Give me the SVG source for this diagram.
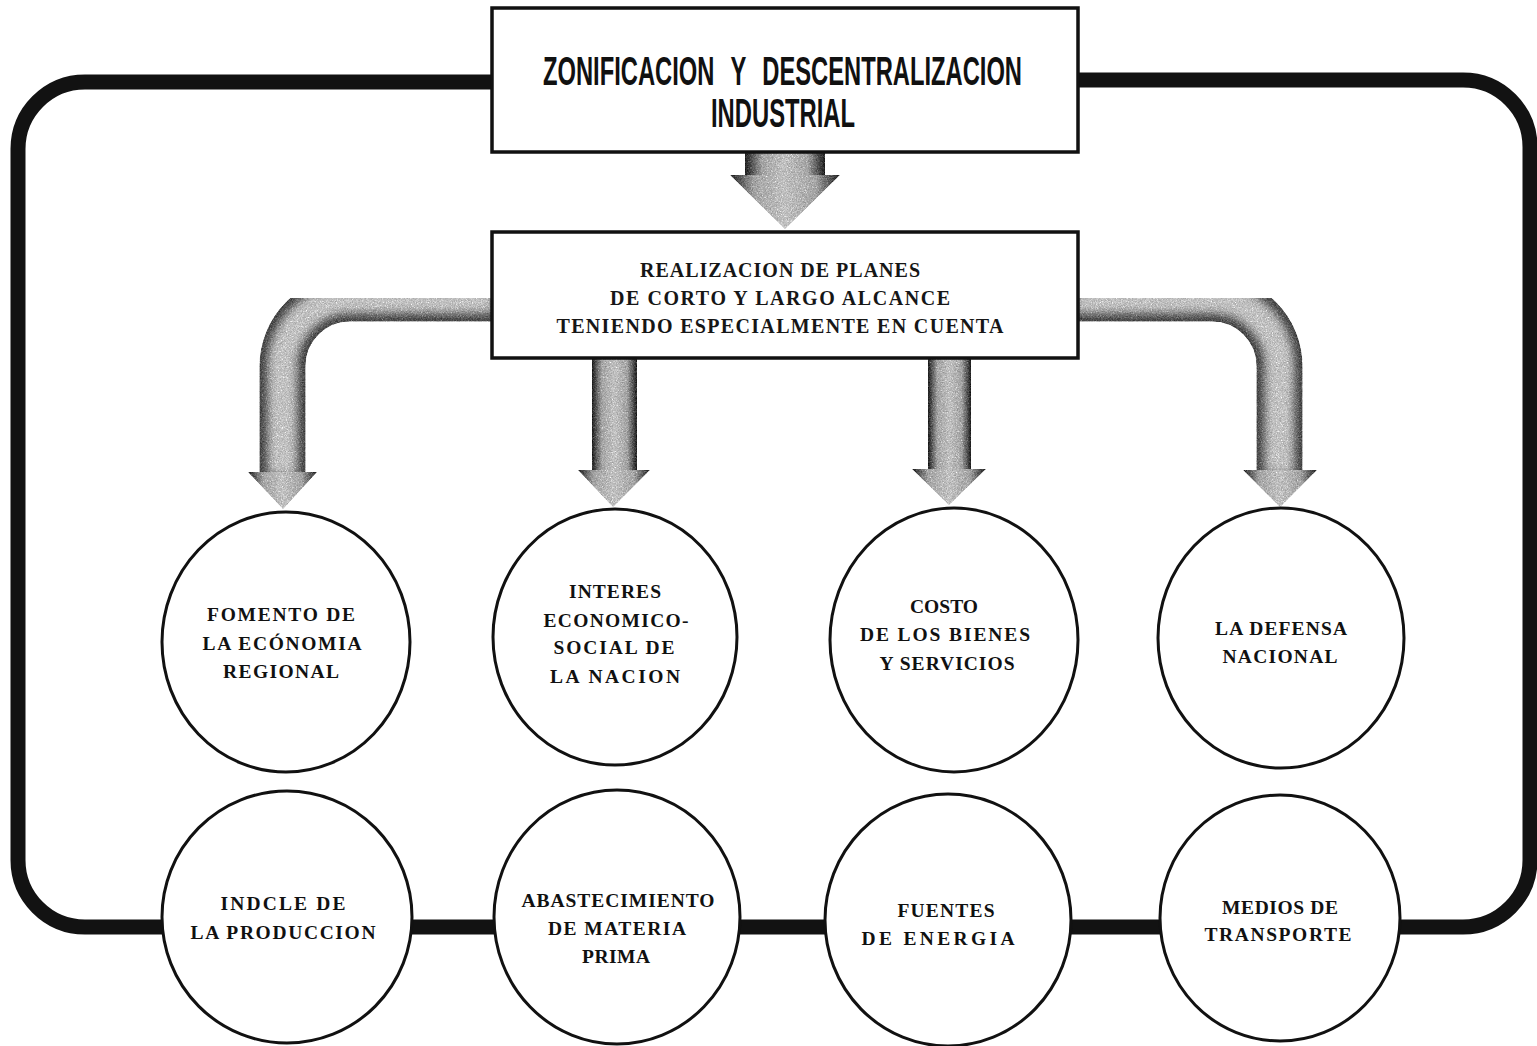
<svg xmlns="http://www.w3.org/2000/svg" width="1537" height="1046" viewBox="0 0 1537 1046">
<style>
.box{fill:#fff;stroke:#111;stroke-width:3.5}
.circ{fill:#fff;stroke:#111;stroke-width:3}
.loop{fill:none;stroke:#121212;stroke-width:15;stroke-linejoin:round}
.title{font-family:"Liberation Sans",Arial,sans-serif;font-weight:bold;font-size:41px;fill:#111}
.sub{font-family:"Liberation Serif","Times New Roman",serif;font-weight:bold;font-size:20px;fill:#161616;text-anchor:middle}
.lbl{font-family:"Liberation Serif","Times New Roman",serif;font-weight:bold;font-size:19.5px;fill:#111;text-anchor:middle}
.tubeOuter{fill:none;stroke:#6e6e6e;stroke-width:46}
.tubeInner{fill:none;stroke:#ececec;stroke-width:30}
</style>
<defs>
<linearGradient id="hgrad" x1="0" y1="0" x2="1" y2="0">
<stop offset="0" stop-color="#4a4a4a"/>
<stop offset="0.22" stop-color="#cfcfcf"/>
<stop offset="0.5" stop-color="#ececec"/>
<stop offset="0.78" stop-color="#cfcfcf"/>
<stop offset="1" stop-color="#4a4a4a"/>
</linearGradient>
<filter id="soft" x="-20%" y="-20%" width="140%" height="140%">
<feGaussianBlur stdDeviation="5"/>
</filter>
<filter id="grain" x="0" y="0" width="100%" height="100%" color-interpolation-filters="sRGB">
<feTurbulence type="fractalNoise" baseFrequency="0.8" numOctaves="2" seed="4" result="noise"/>
<feColorMatrix in="noise" type="saturate" values="0" result="gn"/>
<feComposite in="SourceGraphic" in2="gn" operator="arithmetic" k1="0" k2="1" k3="0.9" k4="-0.42" result="mix"/>
<feComposite in="mix" in2="SourceAlpha" operator="in"/>
</filter>
</defs>
<rect width="1537" height="1046" fill="#fff"/>

<g id="connectors">
<path id="loop" class="loop" d="M 492 82 H 85 A 67 67 0 0 0 18 149 V 860 A 67 67 0 0 0 85 927 H 1463 A 67 67 0 0 0 1530 860 V 147 A 67 67 0 0 0 1463 80 H 1078"/>

<g id="arrow-top" filter="url(#grain)">
<rect x="745" y="150" width="80" height="27" fill="url(#hgrad)"/>
<polygon points="730,175 840,175 785,229" fill="url(#hgrad)"/>
</g>

<g id="arrow-left" filter="url(#grain)">
<path class="tubeOuter" d="M 494 298.5 H 350 A 67.5 67.5 0 0 0 282.5 366 V 476"/>
<path class="tubeInner" filter="url(#soft)" d="M 494 298.5 H 350 A 67.5 67.5 0 0 0 282.5 366 V 476"/>
<polygon points="248,472 317,472 283,509" fill="url(#hgrad)"/>
</g>

<g id="arrow-right" filter="url(#grain)">
<path class="tubeOuter" d="M 1076 298.5 H 1212 A 67.5 67.5 0 0 1 1279.5 366 V 474"/>
<path class="tubeInner" filter="url(#soft)" d="M 1076 298.5 H 1212 A 67.5 67.5 0 0 1 1279.5 366 V 474"/>
<polygon points="1243,470 1317,470 1280,507" fill="url(#hgrad)"/>
</g>

<g id="arrow-mid1" filter="url(#grain)">
<rect x="592" y="358" width="45" height="115" fill="url(#hgrad)"/>
<polygon points="578,470 650,470 613,507" fill="url(#hgrad)"/>
</g>

<g id="arrow-mid2" filter="url(#grain)">
<rect x="928" y="358" width="43" height="113" fill="url(#hgrad)"/>
<polygon points="912,469 986,469 949,505" fill="url(#hgrad)"/>
</g>
</g>

<g id="node-zonificacion">
<rect class="box" x="492" y="8" width="586" height="144"/>
<text class="title" x="543" y="85" textLength="479" lengthAdjust="spacingAndGlyphs" word-spacing="17">ZONIFICACION Y DESCENTRALIZACION</text>
<text class="title" x="711" y="127" textLength="144" lengthAdjust="spacingAndGlyphs">INDUSTRIAL</text>
</g>

<g id="node-realizacion">
<rect class="box" x="492" y="232" width="586" height="126"/>
<text class="sub"><tspan x="780" y="277" textLength="280" lengthAdjust="spacing">REALIZACION DE PLANES</tspan><tspan x="780" y="305" textLength="340" lengthAdjust="spacing">DE CORTO Y LARGO ALCANCE</tspan><tspan x="780" y="333" textLength="447" lengthAdjust="spacing">TENIENDO ESPECIALMENTE EN CUENTA</tspan></text>
</g>

<g id="node-fomento">
<ellipse class="circ" cx="286" cy="642" rx="124" ry="130"/>
<text class="lbl" x="281" y="621" textLength="148" lengthAdjust="spacing">FOMENTO DE</text>
<text class="lbl" x="282" y="650" textLength="159" lengthAdjust="spacing">LA ECÓNOMIA</text>
<text class="lbl" x="281" y="678" textLength="116" lengthAdjust="spacing">REGIONAL</text>
</g>

<g id="node-interes">
<ellipse class="circ" cx="615" cy="637" rx="122" ry="128"/>
<text class="lbl" x="615" y="598" textLength="92" lengthAdjust="spacing">INTERES</text>
<text class="lbl" x="616" y="627" textLength="145" lengthAdjust="spacing">ECONOMICO-</text>
<text class="lbl" x="614" y="654" textLength="121" lengthAdjust="spacing">SOCIAL DE</text>
<text class="lbl" x="615" y="683" textLength="130" lengthAdjust="spacing">LA NACION</text>
</g>

<g id="node-costo">
<ellipse class="circ" cx="954" cy="640" rx="124" ry="132"/>
<text class="lbl" x="944" y="613">COSTO</text>
<text class="lbl" x="945" y="641" textLength="170" lengthAdjust="spacing">DE LOS BIENES</text>
<text class="lbl" x="947" y="670" textLength="135" lengthAdjust="spacing">Y SERVICIOS</text>
</g>

<g id="node-defensa">
<ellipse class="circ" cx="1281" cy="638" rx="123" ry="130"/>
<text class="lbl" x="1281" y="635" textLength="132" lengthAdjust="spacing">LA DEFENSA</text>
<text class="lbl" x="1280" y="663" textLength="115" lengthAdjust="spacing">NACIONAL</text>
</g>

<g id="node-indole">
<ellipse class="circ" cx="287" cy="917" rx="125" ry="126"/>
<text class="lbl" x="283" y="910" textLength="125" lengthAdjust="spacing">INDCLE DE</text>
<text class="lbl" x="283" y="939" textLength="185" lengthAdjust="spacing">LA PRODUCCION</text>
</g>

<g id="node-abastecimiento">
<ellipse class="circ" cx="617" cy="917" rx="123" ry="127"/>
<text class="lbl" x="618" y="907" textLength="193" lengthAdjust="spacing">ABASTECIMIENTO</text>
<text class="lbl" x="617" y="935" textLength="138" lengthAdjust="spacing">DE MATERIA</text>
<text class="lbl" x="616" y="963" textLength="68" lengthAdjust="spacing">PRIMA</text>
</g>

<g id="node-fuentes">
<ellipse class="circ" cx="948" cy="920" rx="123" ry="126"/>
<text class="lbl" x="946" y="917" textLength="97" lengthAdjust="spacing">FUENTES</text>
<text class="lbl" x="938" y="945" textLength="153" lengthAdjust="spacing">DE ENERGIA</text>
</g>

<g id="node-transporte">
<ellipse class="circ" cx="1280" cy="918" rx="120" ry="123"/>
<text class="lbl" x="1280" y="914" textLength="116" lengthAdjust="spacing">MEDIOS DE</text>
<text class="lbl" x="1278" y="941" textLength="147" lengthAdjust="spacing">TRANSPORTE</text>
</g>
</svg>
